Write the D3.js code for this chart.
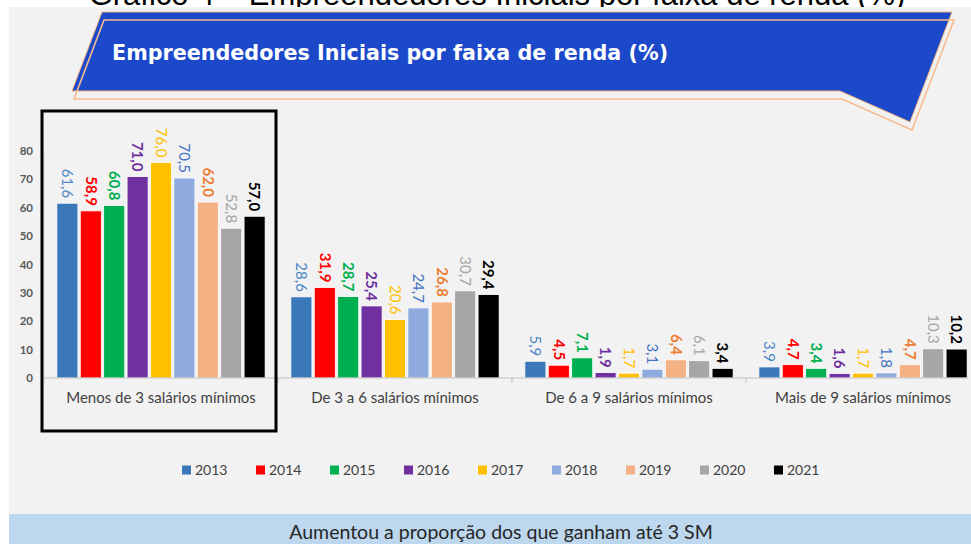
<!DOCTYPE html>
<html>
<head>
<meta charset="utf-8">
<script src="https://cdn.jsdelivr.net/npm/d3@7"></script>
<style>
  html, body { margin: 0; padding: 0; background: #ffffff; }
  svg { display: block; }
</style>
</head>
<body>
<svg id="chart"></svg>
<script>
const WIDTH = 971;
const HEIGHT = 544;

// data
const categories = ["Menos de 3 salários mínimos", "De 3 a 6 salários mínimos", "De 6 a 9 salários mínimos", "Mais de 9 salários mínimos"];
const years = ["2013", "2014", "2015", "2016", "2017", "2018", "2019", "2020", "2021"];
const v2013 = [61.6, 28.6, 5.9, 3.9];
const v2014 = [58.9, 31.9, 4.5, 4.7];
const v2015 = [60.8, 28.7, 7.1, 3.4];
const v2016 = [71.0, 25.4, 1.9, 1.6];
const v2017 = [76.0, 20.6, 1.7, 1.7];
const v2018 = [70.5, 24.7, 3.1, 1.8];
const v2019 = [62.0, 26.8, 6.4, 4.7];
const v2020 = [52.8, 30.7, 6.1, 10.3];
const v2021 = [57.0, 29.4, 3.4, 10.2];
const yTicks = [0, 10, 20, 30, 40, 50, 60, 70, 80];

const seriesValues = [v2013, v2014, v2015, v2016, v2017, v2018, v2019, v2020, v2021];
const barColors = ["#3a78b9", "#ff0000", "#00b050", "#7030a0", "#ffc000", "#8faadc", "#f4b183", "#a6a6a6", "#000000"];
const labelColors = ["#4f88c6", "#ff0000", "#00b050", "#7030a0", "#ffc000", "#4472c4", "#ed7d31", "#a6a6a6", "#000000"];
const labelBold = [false, true, true, true, false, false, true, false, true];

const FONT = "Lato, 'Open Sans', sans-serif";

const ptBR = d3.formatLocale({decimal: ",", thousands: ".", grouping: [3], currency: ["R$", ""]});
const fmt = ptBR.format(".1f");

function main(){
    const svg = d3.select("#chart")
        .attr("width", WIDTH)
        .attr("height", HEIGHT);

    // heading of the page, mostly hidden above the chart
    svg.append("text")
        .attr("x", 497).attr("y", 5)
        .attr("text-anchor", "middle")
        .attr("font-family", "'Liberation Sans', Arial, sans-serif")
        .attr("font-size", 31)
        .attr("fill", "#000")
        .text("Gráfico 4 – Empreendedores Iniciais por faixa de renda (%)");

    // backgrounds
    svg.append("rect").attr("x", 9).attr("y", 7).attr("width", WIDTH - 9).attr("height", 507).attr("fill", "#f2f2f2");
    svg.append("rect").attr("x", 9).attr("y", 514).attr("width", WIDTH - 9).attr("height", 30).attr("fill", "#bdd7ee");

    // banner
    const banner = [[102, 12], [952, 12], [910, 122], [840, 91], [72, 91]];
    const line = d3.line().curve(d3.curveLinearClosed);
    svg.append("path")
        .attr("d", line(banner))
        .attr("fill", "#1b49c9")
        .attr("stroke", "#f4b183")
        .attr("stroke-width", 1);
    svg.append("path")
        .attr("d", line(banner.map(p => [p[0] + 2, p[1] + 8])))
        .attr("fill", "none")
        .attr("stroke", "#f8bb90")
        .attr("stroke-width", 1.6);
    svg.append("text")
        .attr("x", 112).attr("y", 60)
        .attr("font-family", "'DejaVu Sans', Verdana, sans-serif")
        .attr("font-weight", "bold")
        .attr("font-size", 20.7)
        .attr("fill", "#ffffff")
        .text("Empreendedores Iniciais por faixa de renda (%)");

    // scales
    const x0 = d3.scaleBand().domain(categories).range([44, 980]);
    const x1 = d3.scaleBand().domain(years).range([0, x0.bandwidth()])
        .paddingInner(0.1).paddingOuter(0.55);
    const y = d3.scaleLinear().domain([0, 80]).range([378, 151]);

    // y axis
    svg.append("line")
        .attr("x1", 44).attr("x2", 44).attr("y1", y(80)).attr("y2", y(0) + 5)
        .attr("stroke", "#d9d9d9");
    svg.append("g").selectAll("text")
        .data(yTicks)
        .join("text")
        .attr("x", 33).attr("y", d => y(d))
        .attr("dy", "0.35em")
        .attr("text-anchor", "end")
        .attr("font-family", FONT)
        .attr("font-weight", "bold")
        .attr("font-size", 11.5)
        .attr("fill", "#595959")
        .text(d => d);

    // bars
    const groups = svg.append("g").selectAll("g")
        .data(categories)
        .join("g")
        .attr("transform", d => `translate(${x0(d)},0)`);

    groups.selectAll("rect")
        .data((c, ci) => years.map((yr, i) => ({yr, i, v: seriesValues[i][ci]})))
        .join("rect")
        .attr("x", d => x1(d.yr))
        .attr("y", d => y(d.v))
        .attr("width", x1.bandwidth())
        .attr("height", d => y(0) - y(d.v))
        .attr("fill", d => barColors[d.i])
        .attr("stroke", "#ffffff")
        .attr("stroke-width", 0.8);

    groups.selectAll("text.val")
        .data((c, ci) => years.map((yr, i) => ({yr, i, v: seriesValues[i][ci]})))
        .join("text")
        .attr("class", "val")
        .attr("transform", d => `translate(${x1(d.yr) + x1.bandwidth() / 2},${y(d.v) - 5}) rotate(90)`)
        .attr("dy", "0.35em")
        .attr("text-anchor", "end")
        .attr("font-family", FONT)
        .attr("font-weight", d => labelBold[d.i] ? "bold" : "normal")
        .attr("font-size", 15)
        .attr("fill", d => labelColors[d.i])
        .text(d => fmt(d.v));

    // x axis baseline + ticks
    svg.append("line")
        .attr("x1", 44).attr("x2", 968).attr("y1", y(0)).attr("y2", y(0))
        .attr("stroke", "#bfbfbf");
    svg.append("g").selectAll("line")
        .data(categories.slice(1))
        .join("line")
        .attr("x1", d => x0(d)).attr("x2", d => x0(d))
        .attr("y1", y(0)).attr("y2", y(0) + 5)
        .attr("stroke", "#bfbfbf");

    svg.append("g").selectAll("text")
        .data(categories)
        .join("text")
        .attr("x", d => x0(d) + x0.bandwidth() / 2)
        .attr("y", 403)
        .attr("text-anchor", "middle")
        .attr("font-family", FONT)
        .attr("font-size", 15)
        .attr("fill", "#404040")
        .text(d => d);

    // highlight box
    svg.append("rect")
        .attr("x", 42).attr("y", 111).attr("width", 234).attr("height", 320)
        .attr("fill", "none")
        .attr("stroke", "#000")
        .attr("stroke-width", 3);

    // legend
    const legend = svg.append("g").selectAll("g")
        .data(years)
        .join("g")
        .attr("transform", (d, i) => `translate(${182 + i * 74},470)`);
    legend.append("rect")
        .attr("x", 0).attr("y", -4.5).attr("width", 9).attr("height", 9)
        .attr("fill", (d, i) => barColors[i]);
    legend.append("text")
        .attr("x", 13).attr("y", 0).attr("dy", "0.36em")
        .attr("font-family", FONT)
        .attr("font-size", 14)
        .attr("fill", "#404040")
        .text(d => d);

    // footer
    svg.append("text")
        .attr("x", 501).attr("y", 532)
        .attr("dy", "0.35em")
        .attr("text-anchor", "middle")
        .attr("font-family", FONT)
        .attr("font-size", 19.5)
        .attr("fill", "#262626")
        .text("Aumentou a proporção dos que ganham até 3 SM");
}

window.addEventListener("load", main);
</script>
</body>
</html>
